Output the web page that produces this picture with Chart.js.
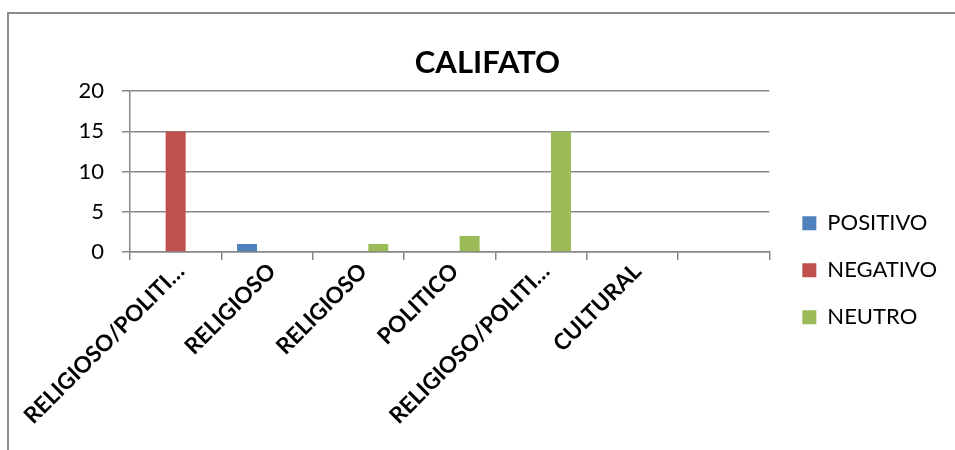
<!DOCTYPE html>
<html>
<head>
<meta charset="utf-8">
<script src="https://cdn.jsdelivr.net/npm/chart.js@4/dist/chart.umd.min.js"></script>
<style>
  html, body { margin: 0; padding: 0; background: #fff; overflow: hidden; }
  #wrap { position: relative; width: 955px; height: 450px; }
  #frame {
    position: absolute; left: 7px; top: 12px; width: 1000px; height: 500px;
    border-left: 2px solid #8c8c8c; border-top: 2px solid #8c8c8c;
  }
  canvas { position: absolute; left: 0; top: 0; }
</style>
</head>
<body>
<div id="wrap">
  <div id="frame"></div>
  <canvas id="chart" width="955" height="450"></canvas>
</div>
<script>
// datos
const categorias = ['RELIGIOSO/POLITI…', 'RELIGIOSO', 'RELIGIOSO', 'POLITICO', 'RELIGIOSO/POLITI…', 'CULTURAL', ''];
const positivo = [0, 1, 0, 0, 0, 0, 0];
const negativo = [15, 0, 0, 0, 0, 0, 0];
const neutro   = [0, 0, 1, 2, 15, 0, 0];
const ticksY   = [0, 5, 10, 15, 20];

const FONT = 'Lato, "Open Sans", sans-serif';
const GRIS = '#878787';

new Chart(document.getElementById('chart'), {
  type: 'bar',
  data: {
    labels: categorias,
    datasets: [
      { label: 'POSITIVO', data: positivo, backgroundColor: '#4f81bd' },
      { label: 'NEGATIVO', data: negativo, backgroundColor: '#c0504d' },
      { label: 'NEUTRO',   data: neutro,   backgroundColor: '#9bbb59' },
    ]
  },
  options: {
    responsive: false,
    animation: false,
    devicePixelRatio: 1,
    layout: { padding: { left: 28, right: 8, top: 0, bottom: 0 } },
    datasets: { bar: { barPercentage: 1, categoryPercentage: 0.656, borderWidth: 0 } },
    plugins: {
      title: {
        display: true,
        text: 'CALIFATO',
        color: '#000',
        font: { family: FONT, size: 31, weight: 'bold' },
        padding: { top: 44, bottom: 10 }
      },
      legend: {
        position: 'right',
        align: 'center',
        maxWidth: 300,
        title: { display: true, text: '', font: { size: 12 }, padding: { top: 0, bottom: 76 } },
        labels: {
          color: '#000',
          font: { family: FONT, size: 22 },
          boxWidth: 14,
          boxHeight: 14,
          padding: 25
        }
      },
      tooltip: { enabled: false }
    },
    scales: {
      x: {
        grid: { display: true, drawOnChartArea: false, drawTicks: true, tickLength: 8, color: GRIS, lineWidth: 1.5 },
        border: { color: GRIS, width: 1.5 },
        ticks: {
          color: '#000',
          font: { family: FONT, size: 22.5, weight: 'bold' },
          minRotation: 45,
          maxRotation: 45,
          autoSkip: false,
          padding: -2,
          labelOffset: 5
        },
        afterFit: s => { s.height = 198; }
      },
      y: {
        min: 0,
        max: 20,
        afterBuildTicks: s => { s.ticks = ticksY.map(v => ({ value: v })); },
        grid: { color: GRIS, lineWidth: 1.5, tickLength: 8 },
        border: { color: GRIS, width: 1.5 },
        ticks: {
          color: '#000',
          font: { family: FONT, size: 22 },
          padding: 18
        },
        afterFit: s => { s.width = 102; }
      },
      // separa la leyenda del área del gráfico
      hueco: {
        position: 'right',
        display: true,
        grid: { display: false },
        border: { display: false },
        ticks: { display: false },
        afterFit: s => { s.width = 8; }
      }
    }
  }
});
</script>
</body>
</html>
